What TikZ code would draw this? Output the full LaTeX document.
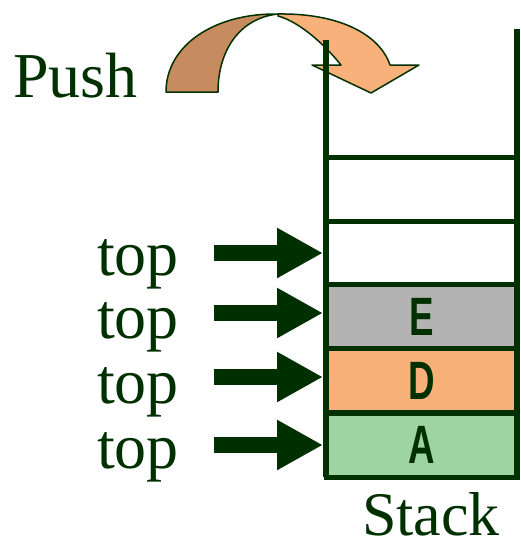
\documentclass[tikz,border=0pt]{standalone}
\usepackage{fontspec}
\setmainfont{Liberation Serif}
\newfontfamily\letterfont{Liberation Sans}
\usetikzlibrary{arrows.meta}
\definecolor{lc}{RGB}{0,48,0}
\definecolor{cgray}{RGB}{179,179,179}
\definecolor{corange}{RGB}{248,176,121}
\definecolor{cgreen}{RGB}{157,212,161}
\definecolor{cdark}{RGB}{198,139,94}
\definecolor{clight}{RGB}{248,177,122}
\tikzset{
  cell/.style={draw=lc, line width=5pt, minimum width=191pt, minimum height=64pt, inner sep=0pt, outer sep=0pt},
  wall/.style={draw=lc, line width=6pt},
  lbl/.style={text=lc, font=\fontsize{64}{70}\selectfont, inner sep=0pt, anchor=base west},
  letter/.style={text=lc, font=\letterfont\bfseries\fontsize{54}{60}\selectfont},
  toparrow/.style={draw=lc, line width=16pt, -{Triangle[length=46pt,width=47pt]}},
  band/.style={draw=lc, line width=1.5pt, line join=round}
}
\begin{document}
\begin{tikzpicture}[x=1pt,y=-1pt]
\useasboundingbox (0,0) rectangle (520,549);
% cells
\node[cell, fill=white] (w1) at (421.5,189) {};
\node[cell, fill=white] (w2) at (421.5,253) {};
\node[cell, fill=cgray] (ce) at (421.5,316.5) {};
\node[cell, fill=corange] (cd) at (421.5,380.5) {};
\node[cell, fill=cgreen] (ca) at (421.5,445) {};
\node[letter] (le) at (ce) {\scalebox{0.68}[1]{E}};
\node[letter] (ld) at (cd) {\scalebox{0.68}[1]{D}};
\node[letter] (la) at (ca) {\scalebox{0.68}[1]{A}};
% push arrow
\fill[cdark, band] (166,92) .. controls (166,45) and (215,13) .. (278,14)
   .. controls (240,18) and (218,50) .. (218,92) -- cycle;
\fill[clight, band] (278,14) .. controls (340,13) and (380,35) .. (390,65)
   -- (419,65) -- (371,93) -- (312,65) -- (341,65)
   .. controls (325,45) and (300,22) .. (278,16) -- cycle;
% walls
\coordinate (lt) at (326,40);
\coordinate (rt) at (517,29);
\draw[wall] (lt) -- (lt |- ca.south);
\draw[wall] (rt) -- (rt |- ca.south);
% labels
\node[lbl] (push) at (13,97) {Push};
\node[lbl, font=\fontsize{62}{68}\selectfont] (stack) at (362,535) {Stack};
\node[lbl] (t1) at (97,275) {top};
\node[lbl] (t2) at (97,338) {top};
\node[lbl] (t3) at (97,403) {top};
\node[lbl] (t4) at (97,468) {top};
% top arrows
\coordinate (s1) at (214,253);
\coordinate (s2) at (214,313);
\coordinate (s3) at (214,377);
\coordinate (s4) at (214,445);
\draw[toparrow] (s1) -- ([xshift=-3pt]s1 -| w2.west);
\draw[toparrow] (s2) -- ([xshift=-3pt]s2 -| ce.west);
\draw[toparrow] (s3) -- ([xshift=-3pt]s3 -| cd.west);
\draw[toparrow] (s4) -- ([xshift=-3pt]s4 -| ca.west);
\end{tikzpicture}
\end{document}
